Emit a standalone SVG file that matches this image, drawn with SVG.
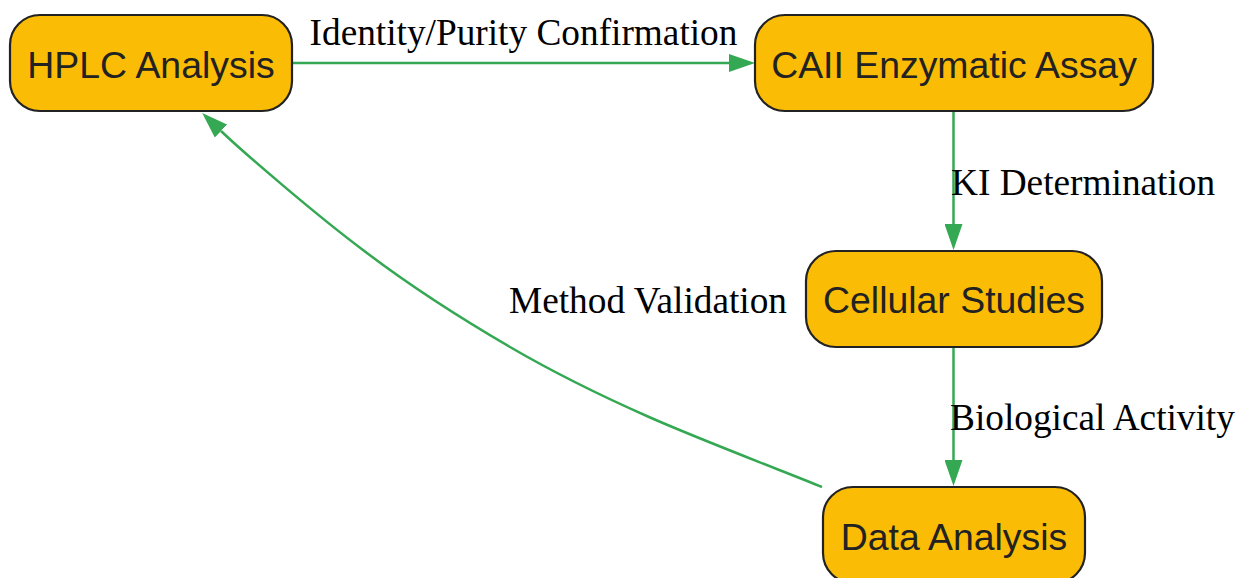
<svg xmlns="http://www.w3.org/2000/svg" width="1237" height="578" viewBox="0 0 1237 578">
<style>
.node rect{fill:#FBBC05;stroke:#222222;stroke-width:2.2}
.node text{font-family:"Liberation Sans",Arial,sans-serif;font-size:37.4px;fill:#222222;text-anchor:middle}
.edge{fill:none;stroke:#34A853;stroke-width:2.5}
.lbl{font-family:"Liberation Serif","Times New Roman",serif;font-size:37.3px;fill:#000000}
</style>
<defs>
<marker id="arr" markerUnits="userSpaceOnUse" viewBox="0 0 26 18" markerWidth="26" markerHeight="18" refX="0" refY="9" orient="auto">
<path d="M0,0 L26,9 L0,18 z" fill="#34A853"/>
</marker>
</defs>
<rect width="1237" height="578" fill="#ffffff"/>
<g id="connectors">
<path class="edge" d="M292,63 L729,63" marker-end="url(#arr)"/>
<path class="edge" d="M953.5,112 L953.5,224" marker-end="url(#arr)"/>
<path class="edge" d="M953.5,348 L953.5,460" marker-end="url(#arr)"/>
<path class="edge" d="M822,487 C793,475 701,440 649,417 C597,394 558,375 510,347 C462,319 414,289 363,250 C315,214 243,152 221,131" marker-end="url(#arr)"/>
<text class="lbl" x="523.5" y="45" text-anchor="middle">Identity/Purity Confirmation</text>
<text class="lbl" x="951" y="195">KI Determination</text>
<text class="lbl" x="950" y="430">Biological Activity</text>
<text class="lbl" x="509" y="313">Method Validation</text>
</g>
<g id="hplc" class="node">
<rect x="10" y="15" width="282" height="96" rx="30" ry="30"/>
<text x="151" y="78">HPLC Analysis</text>
</g>
<g id="caii" class="node">
<rect x="755" y="15" width="398" height="96" rx="30" ry="30"/>
<text x="954" y="78">CAII Enzymatic Assay</text>
</g>
<g id="cellular" class="node">
<rect x="806" y="251" width="296" height="96" rx="30" ry="30"/>
<text x="954" y="313">Cellular Studies</text>
</g>
<g id="data" class="node">
<rect x="823" y="487" width="262" height="96" rx="30" ry="30"/>
<text x="954" y="550">Data Analysis</text>
</g>
</svg>
